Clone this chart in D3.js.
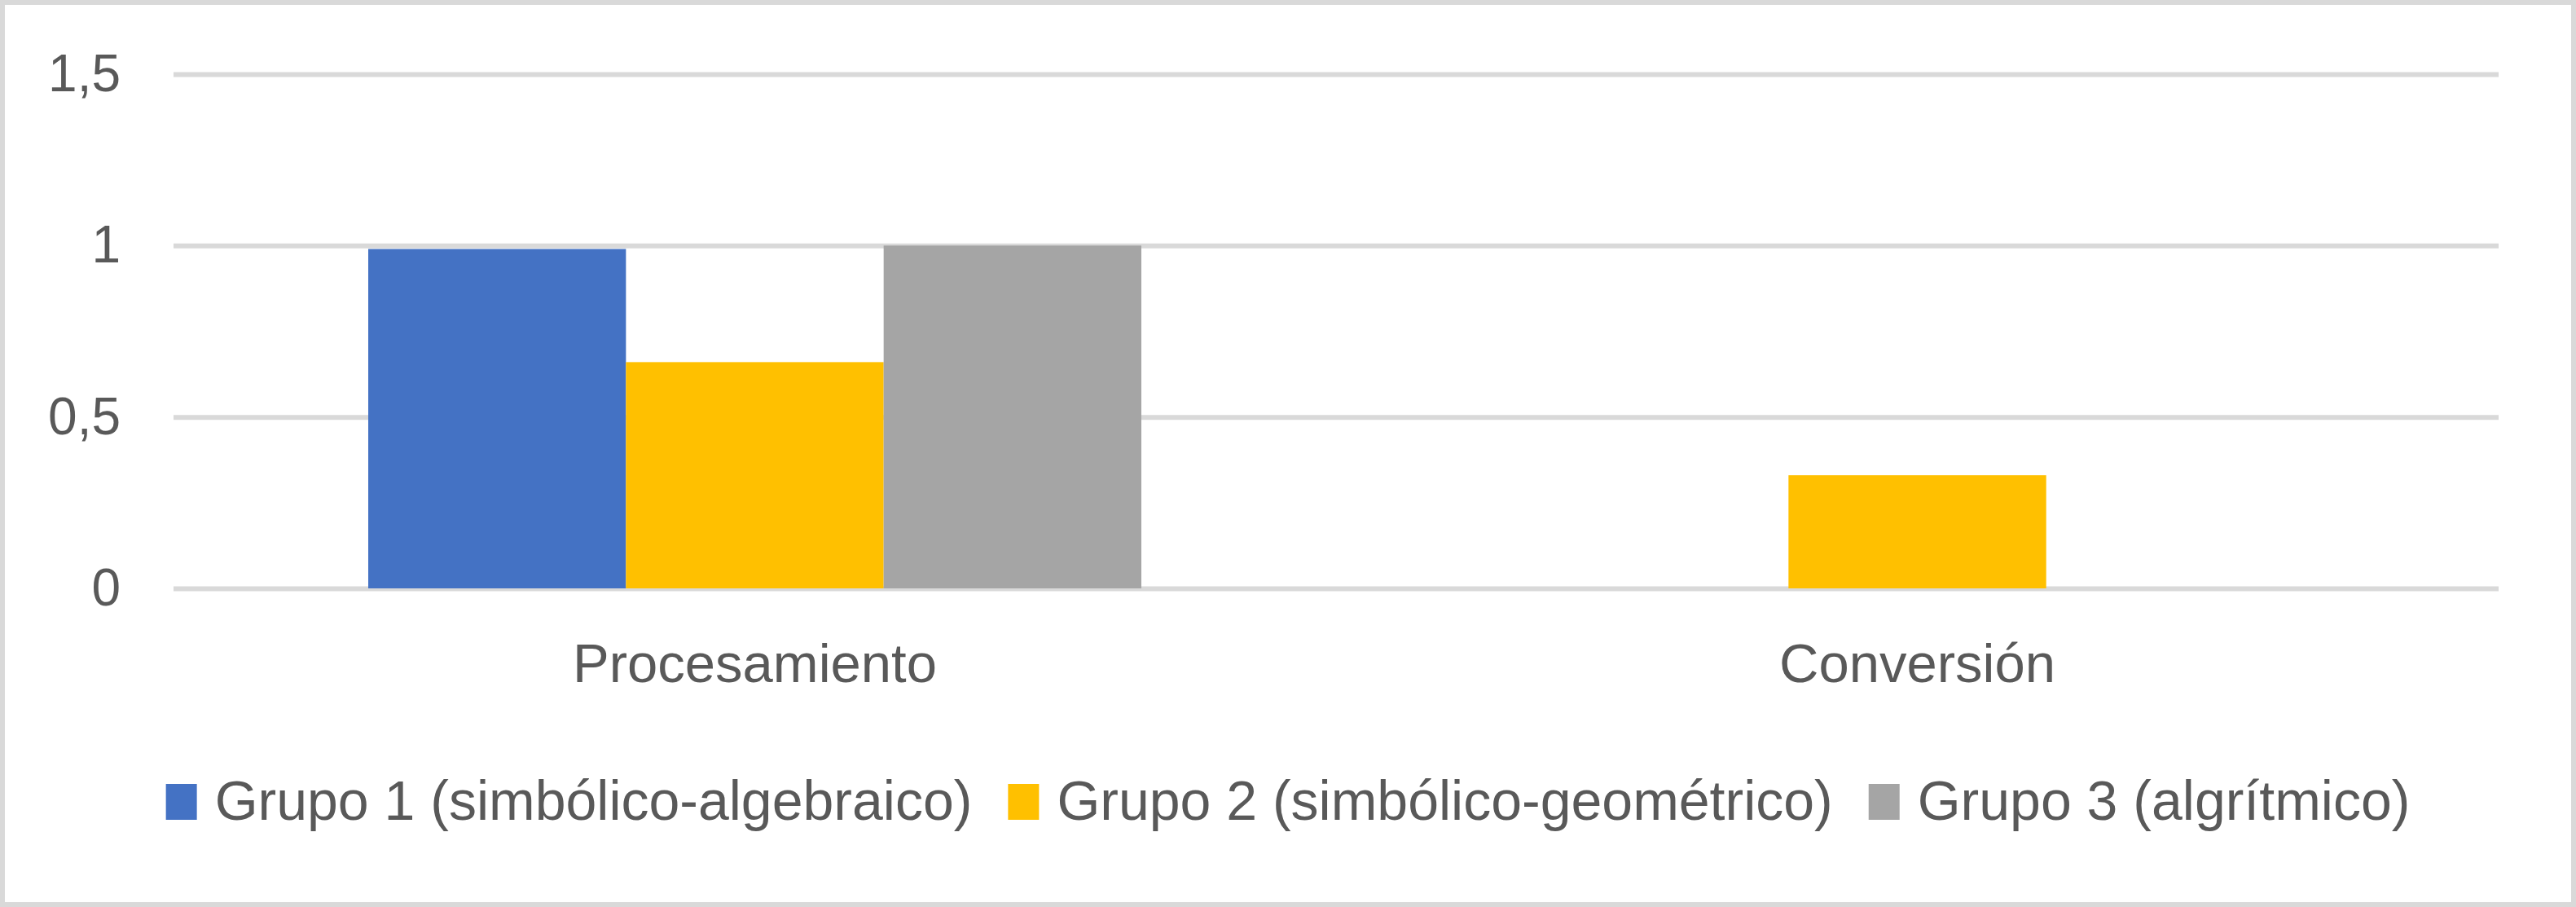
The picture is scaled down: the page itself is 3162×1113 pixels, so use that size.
<!DOCTYPE html>
<html>
<head>
<meta charset="utf-8">
<script src="https://cdn.jsdelivr.net/npm/d3@7"></script>
<style>
    body { margin: 0; background: #fff; }
    text { font-family: "Liberation Sans", Arial, sans-serif; fill: #595959; }
</style>
</head>
<body>
<div id="chart"></div>
<script>
// chart values
var categories = ["Procesamiento", "Conversión"];
var seriesNames = ["Grupo 1 (simbólico-algebraico)", "Grupo 2 (simbólico-geométrico)", "Grupo 3 (algrítmico)"];
var seriesColors = ["#4472C4", "#FFC000", "#A5A5A5"];
var grupo1 = [0.99, 0];
var grupo2 = [0.66, 0.33];
var grupo3 = [1, 0];
var yTicks = [0, 0.5, 1, 1.5];

var seriesValues = [grupo1, grupo2, grupo3];

var width = 3162, height = 1113;
var plot = {left: 213, right: 3067, top: 91, bottom: 722};
var fontSize = 67;

var svg = d3.select("#chart").append("svg")
    .attr("width", width)
    .attr("height", height);

// outer frame
svg.append("rect")
    .attr("x", 3)
    .attr("y", 3)
    .attr("width", width - 6)
    .attr("height", height - 6)
    .attr("fill", "#fff")
    .attr("stroke", "#d9d9d9")
    .attr("stroke-width", 6);

var y = d3.scaleLinear()
    .domain([0, 1.5])
    .range([plot.bottom, plot.top]);

var x0 = d3.scaleBand()
    .domain(categories)
    .range([plot.left, plot.right])
    .paddingInner(0.335)
    .paddingOuter(0.1675);

var x1 = d3.scaleBand()
    .domain(d3.range(seriesNames.length))
    .range([0, x0.bandwidth()]);

// y axis with gridlines
var yAxis = svg.append("g")
    .attr("transform", "translate(" + plot.left + ",0)")
    .call(d3.axisLeft(y)
        .tickValues(yTicks)
        .tickSize(-(plot.right - plot.left))
        .tickPadding(65)
        .tickFormat(function(d) { return String(d).replace(".", ","); }));
yAxis.select(".domain").remove();
yAxis.selectAll(".tick line")
    .attr("stroke", "#d9d9d9")
    .attr("stroke-width", 6);
yAxis.selectAll(".tick text")
    .attr("font-size", 64)
    .attr("fill", "#595959");

// bars
var rows = [];
categories.forEach(function(c, ci) {
    seriesValues.forEach(function(vals, si) {
        rows.push({cat: c, s: si, v: vals[ci]});
    });
});

svg.append("g")
    .selectAll("rect")
    .data(rows.filter(function(d) { return d.v > 0; }))
    .enter()
    .append("rect")
    .attr("x", function(d) { return x0(d.cat) + x1(d.s); })
    .attr("width", x1.bandwidth())
    .attr("y", function(d) { return y(d.v); })
    .attr("height", function(d) { return y(0) - y(d.v); })
    .attr("fill", function(d) { return seriesColors[d.s]; });

// category labels
var xAxis = svg.append("g")
    .attr("transform", "translate(0," + plot.bottom + ")")
    .call(d3.axisBottom(x0).tickSize(0).tickPadding(67));
xAxis.select(".domain").remove();
xAxis.selectAll(".tick text")
    .attr("font-size", fontSize)
    .attr("fill", "#595959");

// legend
var swW = 38, swH = 44, swGap = 22, itemGap = 44, legendBase = 1006;
var legend = svg.append("g");
var items = legend.selectAll("g")
    .data(seriesNames)
    .enter()
    .append("g");
items.append("rect")
    .attr("width", swW)
    .attr("height", swH)
    .attr("y", legendBase - swH)
    .attr("fill", function(d, i) { return seriesColors[i]; });
items.append("text")
    .attr("x", swW + swGap)
    .attr("y", legendBase)
    .attr("font-size", 68)
    .text(function(d) { return d; });

var offsets = [], total = 0;
items.each(function() {
    var w = swW + swGap + d3.select(this).select("text").node().getComputedTextLength();
    offsets.push({start: total, w: w});
    total += w + itemGap;
});
total -= itemGap;
var startX = width / 2 - total / 2;
items.attr("transform", function(d, i) {
    return "translate(" + (startX + offsets[i].start) + ",0)";
});
</script>
</body>
</html>
